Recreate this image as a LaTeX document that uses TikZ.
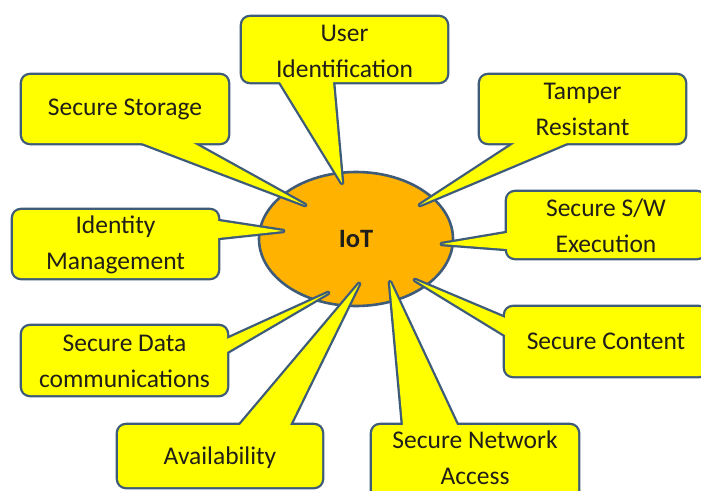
\documentclass[tikz,border=0pt]{standalone}
\usepackage{fontspec}
\setmainfont{Carlito}
\usetikzlibrary{shapes.geometric}
\definecolor{bord}{RGB}{62,92,122}
\definecolor{yel}{RGB}{255,255,0}
\definecolor{org}{RGB}{255,178,0}
\definecolor{txt}{RGB}{32,30,24}
\tikzset{
  lbl/.style={align=center, text=txt, font=\fontsize{25.5}{36}\selectfont, inner sep=0pt},
  cborder/.style={draw=bord, line width=4.6pt, line join=round},
  cfill/.style={fill=yel},
}
% #1 x1, #2 y1, #3 x2, #4 y2, #5 tip name, #6 base point 1, #7 base point 2
\newcommand\mycallout[7]{%
  \path[cborder, rounded corners=8pt] (#1,#2) rectangle (#3,#4);
  \path[cborder] #6 -- (#5) -- #7 -- cycle;
  \path[cfill, rounded corners=8pt] (#1,#2) rectangle (#3,#4);
  \path[cfill] #6 -- (#5) -- #7 -- cycle;
}
\begin{document}
\begin{tikzpicture}[x=1pt,y=-1pt]
\useasboundingbox (0,0) rectangle (701,490);
\clip (0,0) rectangle (701,490);
\fill[white] (0,0) rectangle (701,490);

\node (iot) [ellipse, draw=bord, fill=org, line width=2.6pt, minimum width=194pt, minimum height=134pt, inner sep=0pt, text=txt, font=\fontsize{26.5}{30}\selectfont\bfseries] at (356,239) {IoT};

\coordinate (tUI)  at (342,183);
\coordinate (tSS)  at (305,205);
\coordinate (tTR)  at (420,205);
\coordinate (tIM)  at (283,231);
\coordinate (tSW)  at (442,244);
\coordinate (tSDC) at (328,293);
\coordinate (tAV)  at (359,284);
\coordinate (tSC)  at (415,280);
\coordinate (tSNA) at (390,282);

\mycallout{242}{17}{447}{82}{tUI}{(280,82)}{(333,82)}
\mycallout{22}{75}{228}{143}{tSS}{(142,143)}{(193,143)}
\mycallout{480}{75}{685}{143}{tTR}{(515,143)}{(567,143)}
\mycallout{13}{210}{218}{278}{tIM}{(218,221)}{(218,238)}
\mycallout{507}{192}{705}{258}{tSW}{(507,233)}{(507,249)}
\mycallout{22}{326}{227}{395}{tSDC}{(227,339)}{(227,352)}
\mycallout{118}{425}{322}{487}{tAV}{(240,425)}{(290,425)}
\mycallout{505}{307}{707}{376}{tSC}{(505,318)}{(505,335)}
\mycallout{372}{425}{578}{500}{tSNA}{(403,425)}{(457,425)}

\node[lbl] (uid) at (344.5,51) {User\\Identification};
\node[lbl] (ss)  at (125,109) {Secure Storage};
\node[lbl] (tr)  at (582.5,109) {Tamper\\Resistant};
\node[lbl] (im)  at (115.5,245) {Identity\\Management};
\node[lbl] (sw)  at (606,226) {Secure S/W\\Execution};
\node[lbl] (sdc) at (124.5,361) {Secure Data\\communications};
\node[lbl] (av)  at (220,458) {Availability};
\node[lbl] (sc)  at (606,341) {Secure Content};
\node[lbl] (sna) at (475,458) {Secure Network\\Access};
\end{tikzpicture}
\end{document}
